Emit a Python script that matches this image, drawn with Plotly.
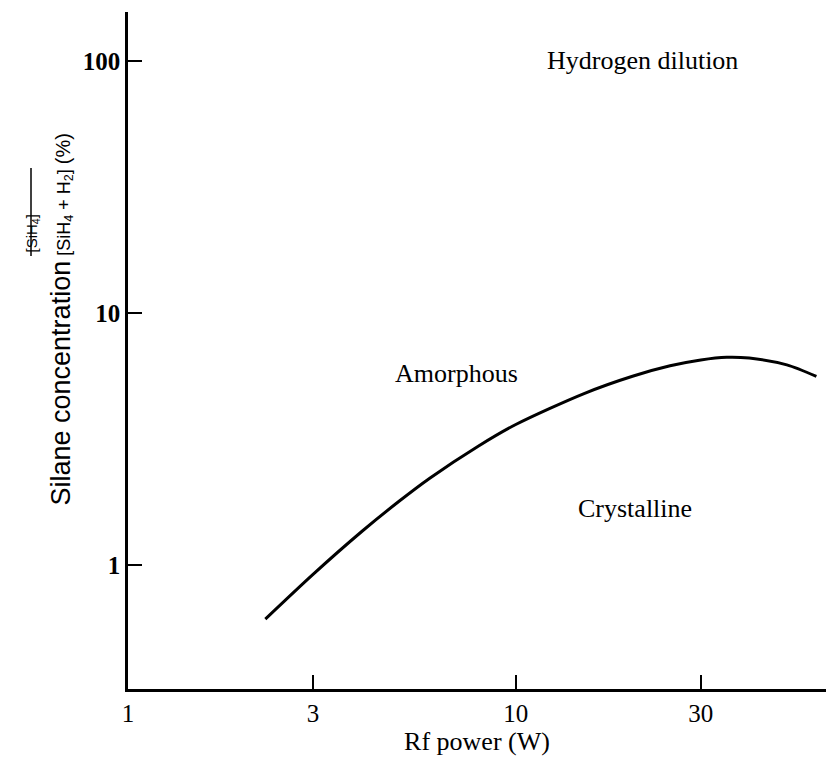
import math
import plotly.graph_objects as go

# Boundary between amorphous and crystalline growth (log-log)
rf_power = [2.26, 3, 4, 5, 6, 8, 10, 15, 20, 25, 30, 35, 40, 50, 59.6]
silane_pct = [0.61, 0.918, 1.355, 1.79, 2.21, 2.96, 3.61, 4.79, 5.61, 6.17, 6.51, 6.67, 6.62, 6.22, 5.60]

x_ticks = [1, 3, 10, 30]
x_tick_text = ["1", "3", "10", "30"]
y_ticks = [1, 10, 100]
y_tick_text = ["<b>1</b>", "<b>10</b>", "<b>100</b>"]

region_labels = ["Hydrogen dilution", "Amorphous", "Crystalline"]
region_x = [21.2, 7.05, 20.3]
region_y = [100, 5.73, 1.68]

W, H = 826, 760
L, R, T, B = 128, 0, 12, 71
SERIF = "Liberation Serif"
SANS = "Liberation Sans"


def px(xp):
    return (xp - L) / (W - L - R)


def py(yp):
    return (H - B - yp) / (H - T - B)


fig = go.Figure()
fig.add_trace(go.Scatter(
    x=rf_power, y=silane_pct, mode="lines",
    line=dict(color="black", width=3, shape="spline", smoothing=0.8),
    showlegend=False, hoverinfo="skip",
))

# annotation positions on log axes are given in log10 units
for txt, xv, yv in zip(region_labels, region_x, region_y):
    fig.add_annotation(x=math.log10(xv), y=math.log10(yv), xref="x", yref="y",
                       text=txt, showarrow=False,
                       font=dict(family=SERIF, size=26, color="black"))

# y-axis title: one rotated line (label, denominator, unit) ...
y_title = ("<span style='font-size:27px'>Silane concentration</span> "
           "[SiH<sub>4</sub> + H<sub>2</sub>] "
           "<span style='font-size:20px'>(%)</span>")
fig.add_annotation(x=px(44), y=py(320), xref="paper", yref="paper",
                   text=y_title, textangle=-90, showarrow=False,
                   font=dict(family=SANS, size=18, color="black"))
# ... with the numerator and fraction bar stacked on the denominator
fig.add_annotation(x=px(20), y=py(213), xref="paper", yref="paper",
                   text="[SiH<sub>4</sub>]", textangle=-90, showarrow=False,
                   font=dict(family=SANS, size=15, color="black"))
fig.add_shape(type="line", xref="paper", yref="paper",
              x0=px(31), x1=px(31), y0=py(168), y1=py(256),
              line=dict(color="black", width=1.5))

fig.update_xaxes(type="log", range=[0, 1.8], tickvals=x_ticks, ticktext=x_tick_text,
                 ticks="inside", ticklen=14, tickwidth=1.5, tickcolor="black",
                 showline=True, linewidth=2.5, linecolor="black",
                 showgrid=False, zeroline=False,
                 tickfont=dict(family=SERIF, size=25, color="black"),
                 title=dict(text="Rf power (W)", standoff=6,
                            font=dict(family=SERIF, size=26, color="black")))
fig.update_yaxes(type="log", range=[-0.492, 2.194], tickvals=y_ticks, ticktext=y_tick_text,
                 ticks="inside", ticklen=14, tickwidth=1.5, tickcolor="black",
                 showline=True, linewidth=2.5, linecolor="black",
                 showgrid=False, zeroline=False,
                 tickfont=dict(family=SERIF, size=25, color="black"))

fig.update_layout(width=W, height=H, margin=dict(l=L, r=R, t=T, b=B),
                  paper_bgcolor="white", plot_bgcolor="white")

fig.write_html("out.html")
